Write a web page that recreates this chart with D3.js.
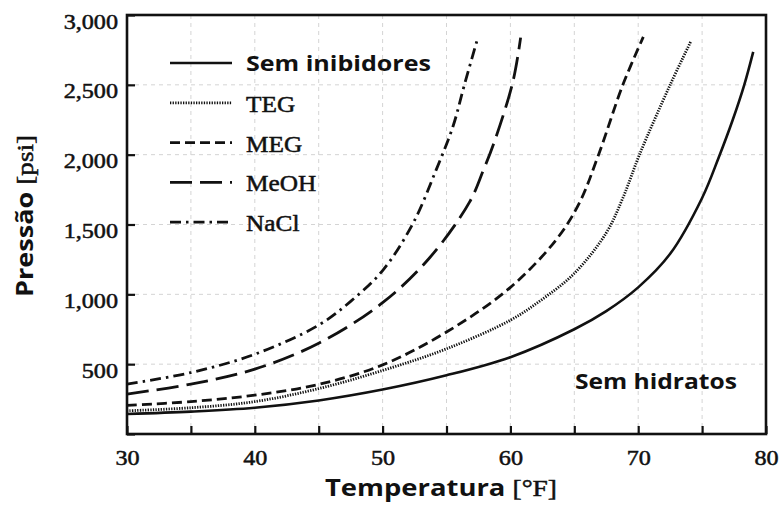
<!DOCTYPE html>
<html>
<head>
<meta charset="utf-8">
<script src="https://cdn.jsdelivr.net/npm/d3@7"></script>
<style>
  body { margin: 0; background: #fff; }
  svg { display: block; }
</style>
</head>
<body>
<div id="chart"></div>
<script>
// hydrate formation curves, [temperature F, pressure psi]
const semInibidores = [[30,143],[35,160],[40,188],[45,240],[50,318],[55,420],[60,550],[65,750],[67.5,880],[70,1050],[72.5,1290],[75,1690],[76.3,1980],[77.4,2250],[78.3,2500],[79,2736]];
const teg = [[30,166],[35,188],[40,232],[45,325],[50,455],[55,610],[60,815],[62.5,965],[65,1150],[67.5,1440],[68.8,1690],[70.1,2000],[72.5,2500],[74.1,2807]];
const meg = [[30,205],[35,232],[40,278],[45,355],[50,495],[55,730],[60,1050],[63.6,1393],[65.4,1655],[66.9,2000],[68.8,2500],[70.4,2843]];
const meoh = [[30,286],[35,357],[40,464],[45,650],[50,940],[53.7,1264],[56.8,1660],[57.9,1893],[58.7,2080],[60.2,2524],[60.8,2838]];
const nacl = [[30,357],[35,440],[40,571],[45,780],[47.5,950],[50,1170],[52.4,1512],[54.2,1893],[55.5,2200],[56.4,2500],[57.4,2821]];

const seriesNames = ["Sem inibidores", "TEG", "MEG", "MeOH", "NaCl"];
const seriesData = [semInibidores, teg, meg, meoh, nacl];

const xTicks = [30, 35, 40, 45, 50, 55, 60, 65, 70, 75, 80];
const yTicks = [0, 500, 1000, 1500, 2000, 2500, 3000];

const WIDTH = 782;
const HEIGHT = 511;
const margin = {top: 15, right: 16, bottom: 77, left: 127};

// line styles per series (same order as seriesNames)
const dashes = [null, "1.3,1.3", "10,5", "22,8", "11,5,2.5,5"];
const widths = [2.6, 2.8, 2.8, 2.8, 2.8];
const SERIF = "'Liberation Serif', 'Times New Roman', serif";
const SANS = "'Open Sans', 'Noto Sans', sans-serif";

// the source image is stretched sideways, so stretch the glyphs too
function stretch(sel, k) {
    sel.each(function () {
        const w = this.getComputedTextLength();
        d3.select(this).attr("textLength", w * k).attr("lengthAdjust", "spacingAndGlyphs");
    });
}

function stretchTo(sel, w) {
    sel.attr("textLength", w).attr("lengthAdjust", "spacingAndGlyphs");
}

const svg = d3.select("#chart")
    .append("svg")
    .attr("width", WIDTH)
    .attr("height", HEIGHT);

const x = d3.scaleLinear()
    .domain([30, 80])
    .range([margin.left, WIDTH - margin.right]);

const y = d3.scaleLinear()
    .domain([0, 3000])
    .range([HEIGHT - margin.bottom, margin.top]);

// faint grid
const grid = svg.append("g")
    .attr("stroke", "#d4d4d4")
    .attr("stroke-width", 1)
    .attr("stroke-dasharray", "4,4");

grid.selectAll("line.v")
    .data(xTicks.slice(1, -1))
    .join("line")
    .attr("x1", d => x(d)).attr("x2", d => x(d))
    .attr("y1", y(3000)).attr("y2", y(0));

grid.selectAll("line.h")
    .data(yTicks.slice(1, -1))
    .join("line")
    .attr("x1", x(30)).attr("x2", x(80))
    .attr("y1", d => y(d)).attr("y2", d => y(d));

// axes, ticks pointing inside
const xAxis = svg.append("g")
    .attr("transform", `translate(0,${y(0)})`)
    .call(d3.axisBottom(x)
        .tickValues(xTicks)
        .tickSizeInner(-8)
        .tickSizeOuter(0)
        .tickPadding(16)
        .tickFormat(d => d % 10 === 0 ? d : ""));

const yAxis = svg.append("g")
    .attr("transform", `translate(${x(30)},0)`)
    .call(d3.axisLeft(y)
        .tickValues(yTicks)
        .tickSizeInner(-8)
        .tickSizeOuter(0)
        .tickPadding(9)
        .tickFormat(d => d === 0 ? "" : d3.format(",")(d)));

[xAxis, yAxis].forEach(ax => {
    ax.select(".domain").remove();
    ax.selectAll(".tick line").attr("stroke", "#111").attr("stroke-width", 2.2);
    ax.selectAll(".tick text")
        .attr("fill", "#111")
        .attr("stroke", "#111")
        .attr("stroke-width", 0.5)
        .style("font-family", SERIF)
        .style("font-size", "21px");
});
yAxis.selectAll(".tick text").attr("dy", "0.62em");
stretch(xAxis.selectAll(".tick text"), 1.15);
stretch(yAxis.selectAll(".tick text"), 1.15);

// curves
const line = d3.line()
    .x(d => x(d[0]))
    .y(d => y(d[1]))
    .curve(d3.curveCatmullRom.alpha(0.5));

svg.append("g")
    .selectAll("path")
    .data(seriesData)
    .join("path")
    .attr("d", line)
    .attr("fill", "none")
    .attr("stroke", "#111")
    .attr("stroke-width", (d, i) => widths[i])
    .attr("stroke-dasharray", (d, i) => dashes[i]);

// frame
svg.append("rect")
    .attr("x", x(30))
    .attr("y", y(3000))
    .attr("width", x(80) - x(30))
    .attr("height", y(0) - y(3000))
    .attr("fill", "none")
    .attr("stroke", "#111")
    .attr("stroke-width", 2.6);

// legend
const legend = svg.append("g")
    .selectAll("g")
    .data(seriesNames)
    .join("g")
    .attr("transform", (d, i) => `translate(170,${63 + i * 39.8})`);

legend.append("line")
    .attr("x1", 0).attr("x2", 62)
    .attr("stroke", "#111")
    .attr("stroke-width", (d, i) => widths[i])
    .attr("stroke-dasharray", (d, i) => dashes[i]);

const isFirst = d => d === seriesNames[0];

legend.append("text")
    .attr("x", 76)
    .attr("y", d => isFirst(d) ? 8 : 9)
    .attr("fill", "#111")
    .attr("stroke", d => isFirst(d) ? null : "#111")
    .attr("stroke-width", 0.5)
    .style("font-family", d => isFirst(d) ? SANS : SERIF)
    .style("font-weight", d => isFirst(d) ? "bold" : "normal")
    .style("font-size", d => isFirst(d) ? "22px" : "23px")
    .text(d => d);
stretchTo(legend.selectAll("text").filter(isFirst), 185);
stretch(legend.selectAll("text").filter(d => !isFirst(d)), 1.1);

// region annotation
svg.append("text")
    .attr("x", 575)
    .attr("y", 389)
    .attr("fill", "#111")
    .style("font-family", SANS)
    .style("font-weight", "bold")
    .style("font-size", "22px")
    .text("Sem hidratos")
    .call(stretchTo, 162);

// axis titles
const xTitle = svg.append("text")
    .attr("x", 441)
    .attr("y", 496)
    .attr("text-anchor", "middle")
    .attr("fill", "#111")
    .style("font-size", "24px");
xTitle.append("tspan").style("font-family", SANS).style("font-weight", "bold").text("Temperatura ");
xTitle.append("tspan").style("font-family", SERIF).attr("stroke", "#111").attr("stroke-width", 0.5).text("[°F]");
stretchTo(xTitle, 232);

const yTitle = svg.append("text")
    .attr("transform", "translate(33,216) rotate(-90)")
    .attr("text-anchor", "middle")
    .attr("fill", "#111")
    .style("font-size", "24px");
yTitle.append("tspan").style("font-family", SANS).style("font-weight", "bold").text("Pressão ");
yTitle.append("tspan").style("font-family", SERIF).attr("stroke", "#111").attr("stroke-width", 0.5).text("[psi]");
stretchTo(yTitle, 162);
</script>
</body>
</html>
